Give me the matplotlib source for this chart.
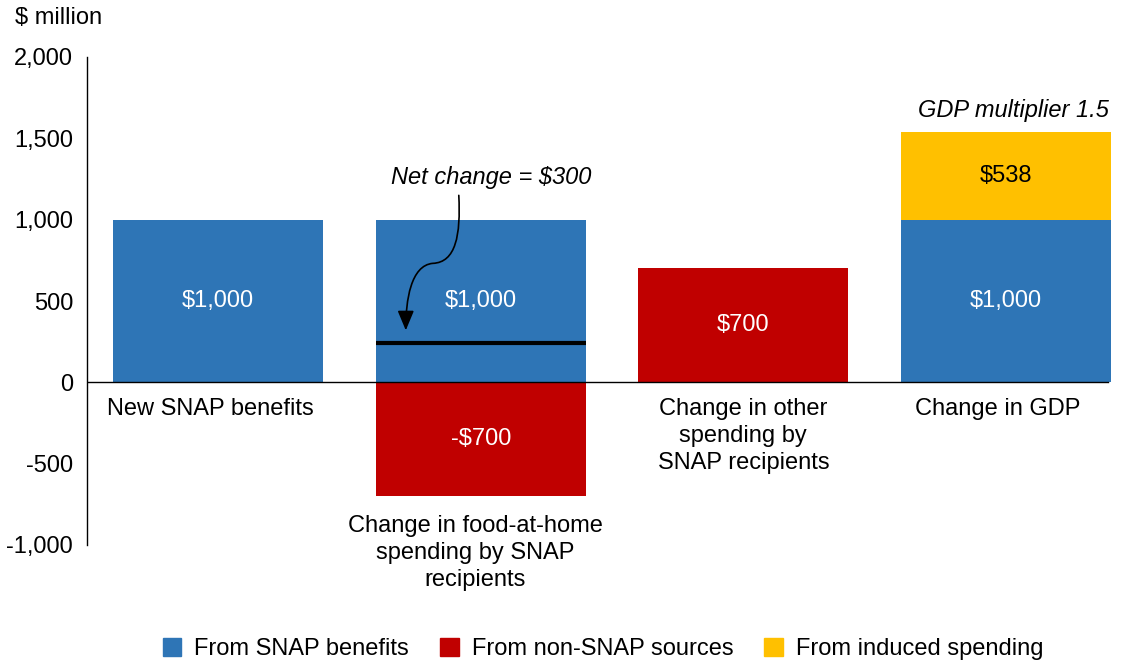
import matplotlib
matplotlib.use("Agg")
from matplotlib import pyplot as plt
from matplotlib.path import Path
from matplotlib.patches import FancyArrowPatch, Patch

plt.rcParams['font.family'] = ['Liberation Sans', 'DejaVu Sans']
plt.rcParams['font.size'] = 17

# data
categories = ["New SNAP benefits",
              "Change in food-at-home\nspending by SNAP\nrecipients",
              "Change in other\nspending by\nSNAP recipients",
              "Change in GDP"]
snap_vals = [1000, 1000, 0, 1000]
nonsnap_vals = [0, -700, 700, 0]
induced_vals = [0, 0, 0, 538]
net_line_value = 240
yticks = [-1000, -500, 0, 500, 1000, 1500, 2000]

BLUE = "#2E75B6"
RED = "#C00000"
YELLOW = "#FFC000"

fig = plt.figure(figsize=(11.28, 6.61), dpi=100)
ax = fig.add_axes([87/1128, 1-545/661, 1037/1128, 488/661])

x = range(len(categories))
w = 0.8
ax.bar(x, snap_vals, w, color=BLUE)
ax.bar(x, nonsnap_vals, w, color=RED)
ax.bar(x, induced_vals, w, bottom=snap_vals, color=YELLOW)

ax.set_xlim(-0.5, 3.45)
ax.set_ylim(-1000, 2000)
ax.set_yticks(yticks)
ax.set_yticklabels([f"{v:,}" for v in yticks])
ax.tick_params(axis='y', length=0, pad=10)
ax.set_xticks([])
for s in ['top', 'right', 'bottom']:
    ax.spines[s].set_visible(False)
ax.spines['left'].set_linewidth(1)
ax.axhline(0, color='black', lw=1, xmin=0, xmax=0.985)

# value labels
for i in x:
    if snap_vals[i]:
        ax.text(i, snap_vals[i]/2, f"${snap_vals[i]:,}", color='white', ha='center', va='center')
    if nonsnap_vals[i]:
        v = nonsnap_vals[i]
        lab = f"-${abs(v):,}" if v < 0 else f"${v:,}"
        ax.text(i, v/2, lab, color='white', ha='center', va='center')
    if induced_vals[i]:
        ax.text(i, snap_vals[i] + induced_vals[i]/2, f"${induced_vals[i]:,}",
                color='black', ha='center', va='center')

# category labels
ax.text(-0.03, -95, categories[0], ha='center', va='top')
ax.text(0.98, -815, categories[1], ha='center', va='top', linespacing=1.3)
ax.text(2.0, -95, categories[2], ha='center', va='top', linespacing=1.3)
ax.text(2.97, -95, categories[3], ha='center', va='top')

# net change line and arrow
ax.plot([0.6, 1.4], [net_line_value, net_line_value], color='black', lw=3, solid_capstyle='butt')
ax.text(1.04, 1260, "Net change = $300", style='italic', ha='center', va='center')

def px(p):
    return ((p[0] - 217.5) / 262.5, (382 - p[1]) / 162.7 * 1000)

pts = [(458, 195), (460, 235), (455, 262), (432, 263),
       (410, 265), (405, 300), (405, 330)]
codes = [Path.MOVETO, Path.CURVE4, Path.CURVE4, Path.CURVE4,
         Path.CURVE4, Path.CURVE4, Path.CURVE4]
path = Path([px(p) for p in pts], codes)
arrow = FancyArrowPatch(path=path, arrowstyle='-|>,head_length=12,head_width=5',
                        color='black', lw=1.2)
ax.add_patch(arrow)

ax.text(3.03, 1672, "GDP multiplier 1.5", style='italic', ha='center', va='center')

fig.text(15/1128, 1-18/661, "$ million", ha='left', va='center')

handles = [Patch(color=BLUE, label="From SNAP benefits"),
           Patch(color=RED, label="From non-SNAP sources"),
           Patch(color=YELLOW, label="From induced spending")]
fig.legend(handles=handles, loc='center', bbox_to_anchor=(603/1128, 1-649/661), ncol=3,
           frameon=False, handlelength=0.8, handleheight=0.8, handletextpad=0.55,
           columnspacing=1.3, borderpad=0)

fig.savefig("out.png", dpi=100)
